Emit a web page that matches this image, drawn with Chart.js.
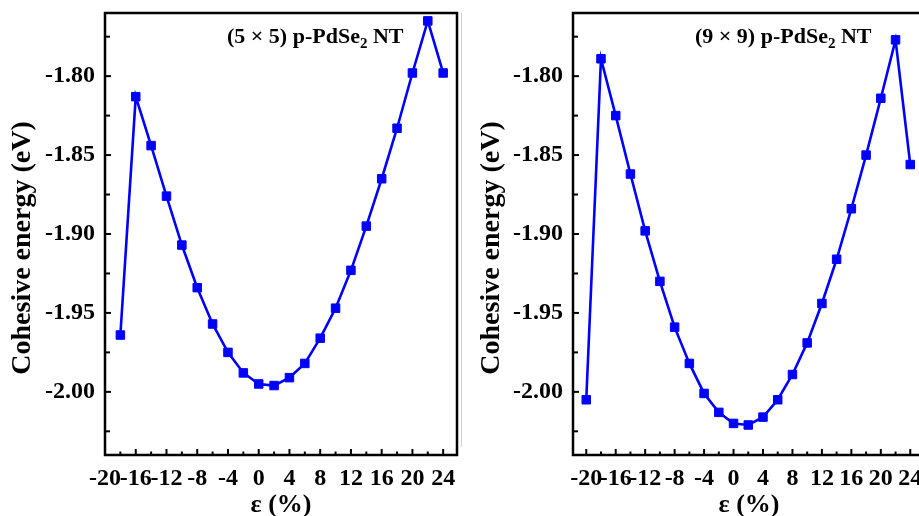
<!DOCTYPE html>
<html>
<head>
<meta charset="utf-8">
<script src="https://cdn.jsdelivr.net/npm/chart.js@4/dist/chart.umd.min.js"></script>
<style>
  body { margin: 0; background: #fff; }
  #wrap { position: relative; width: 919px; height: 516px; overflow: hidden; background: #fff; }
  #chartA { position: absolute; left: 0; top: 0; }
  #chartB { position: absolute; left: 460px; top: 0; }
  #sep { position: absolute; left: 461px; top: 13px; width: 0; height: 434px; border-left: 1px solid #d0d0d0; }
</style>
</head>
<body>
<div id="wrap">
  <canvas id="chartA" width="460" height="516"></canvas>
  <div id="sep"></div>
  <canvas id="chartB" width="480" height="516"></canvas>
</div>
<script>
// strain values (%) and cohesive energies (eV)
const strainA = [-18, -16, -14, -12, -10, -8, -6, -4, -2, 0, 2, 4, 6, 8, 10, 12, 14, 16, 18, 20, 22, 24];
const energyA = [-1.964, -1.813, -1.844, -1.876, -1.907, -1.934, -1.957, -1.975, -1.988, -1.995, -1.996,
                 -1.991, -1.982, -1.966, -1.947, -1.923, -1.895, -1.865, -1.833, -1.798, -1.765, -1.798];

const strainB = [-20, -18, -16, -14, -12, -10, -8, -6, -4, -2, 0, 2, 4, 6, 8, 10, 12, 14, 16, 18, 20, 22, 24];
const energyB = [-2.005, -1.789, -1.825, -1.862, -1.898, -1.930, -1.959, -1.982, -2.001, -2.013, -2.020, -2.021,
                 -2.016, -2.005, -1.989, -1.969, -1.944, -1.916, -1.884, -1.850, -1.814, -1.777, -1.856];

// tick values
const xMajor = [-20, -16, -12, -8, -4, 0, 4, 8, 12, 16, 20, 24];
const xMinor = [-18, -14, -10, -6, -2, 2, 6, 10, 14, 18, 22];
const yMajor = [-2.00, -1.95, -1.90, -1.85, -1.80];
const yMinor = [-2.025, -1.975, -1.925, -1.875, -1.825, -1.775];

const labelA = "(5 \u00d7 5) p-PdSe";
const labelB = "(9 \u00d7 9) p-PdSe";

const FONT = "'Liberation Serif', 'Times New Roman', serif";

// frame + inward ticks + panel label
const framePlugin = {
  id: "frameTicks",
  afterDatasetsDraw(chart, args, opts) {
    const ctx = chart.ctx;
    const a = chart.chartArea;
    const xs = chart.scales.x, ys = chart.scales.y;
    ctx.save();
    ctx.strokeStyle = "#000";
    ctx.lineWidth = 2;
    xMajor.forEach(v => {
      const px = xs.getPixelForValue(v);
      ctx.beginPath(); ctx.moveTo(px, a.bottom); ctx.lineTo(px, a.bottom - 6); ctx.stroke();
    });
    xMinor.forEach(v => {
      const px = xs.getPixelForValue(v);
      ctx.beginPath(); ctx.moveTo(px, a.bottom); ctx.lineTo(px, a.bottom - 3.5); ctx.stroke();
    });
    yMajor.forEach(v => {
      const py = ys.getPixelForValue(v);
      ctx.beginPath(); ctx.moveTo(a.left, py); ctx.lineTo(a.left + 6, py); ctx.stroke();
    });
    yMinor.forEach(v => {
      const py = ys.getPixelForValue(v);
      ctx.beginPath(); ctx.moveTo(a.left, py); ctx.lineTo(a.left + 5, py); ctx.stroke();
    });
    ctx.lineWidth = 2.5;
    ctx.strokeRect(a.left, a.top, a.right - a.left, a.bottom - a.top);

    // panel label with subscript
    const tx = a.left + opts.dx, ty = a.top + opts.dy;
    ctx.fillStyle = "#000";
    ctx.textBaseline = "alphabetic";
    ctx.textAlign = "left";
    ctx.font = "bold 22px " + FONT;
    ctx.fillText(opts.text, tx, ty);
    let w = ctx.measureText(opts.text).width;
    ctx.font = "bold 15px " + FONT;
    ctx.fillText("2", tx + w, ty + 5);
    w += ctx.measureText("2").width;
    ctx.font = "bold 22px " + FONT;
    ctx.fillText(" NT", tx + w, ty);
    ctx.restore();
  }
};

function makeChart(id, xs, ys, xMin, xMax, axisWidth, padRight, titlePad, label) {
  const ctx = document.getElementById(id).getContext("2d");
  const points = xs.map((x, i) => ({ x: x, y: ys[i] }));
  return new Chart(ctx, {
    type: "line",
    data: {
      datasets: [{
        data: points,
        borderColor: "#0000ff",
        backgroundColor: "#0000ff",
        borderWidth: 2.6,
        pointStyle: "rect",
        pointRadius: 6,
        pointBorderWidth: 1,
        tension: 0,
      }],
    },
    options: {
      responsive: false,
      animation: false,
      layout: { autoPadding: false, padding: { top: 13, right: padRight, left: 0, bottom: 0 } },
      plugins: {
        legend: { display: false },
        tooltip: { enabled: false },
        frameTicks: { text: label, dx: 122, dy: 30 },
      },
      scales: {
        x: {
          type: "linear",
          min: xMin,
          max: xMax,
          afterBuildTicks: s => { s.ticks = xMajor.map(v => ({ value: v })); },
          afterFit: s => { s.height = 61; s.paddingLeft = 0; s.paddingRight = 0; },
          grid: { display: false, drawTicks: false },
          border: { display: false },
          ticks: {
            padding: 9,
            color: "#000",
            font: { family: FONT, size: 24, weight: "bold" },
            maxRotation: 0,
            autoSkip: false,
          },
          title: {
            display: true,
            text: "\u03b5 (%)",
            color: "#000",
            font: { family: FONT, size: 26, weight: "bold", lineHeight: 1 },
            padding: { top: 0, bottom: -2 },
          },
        },
        y: {
          min: -2.04,
          max: -1.76,
          afterBuildTicks: s => { s.ticks = yMajor.map(v => ({ value: v })); },
          afterFit: s => { s.width = axisWidth; s.paddingTop = 0; s.paddingBottom = 0; },
          grid: { display: false, drawTicks: false },
          border: { display: false },
          ticks: {
            padding: 10,
            color: "#000",
            font: { family: FONT, size: 24, weight: "bold" },
            callback: v => v.toFixed(2),
          },
          title: {
            display: true,
            // trailing spaces push the centred title slightly down, as in the figure
            text: "Cohesive energy (eV)\u00a0\u00a0\u00a0\u00a0",
            color: "#000",
            font: { family: FONT, size: 28, weight: "bold", lineHeight: 1 },
            padding: { top: titlePad, bottom: 0 },
          },
        },
      },
    },
    plugins: [framePlugin],
  });
}

document.addEventListener("DOMContentLoaded", function () {
  makeChart("chartA", strainA, energyA, -20, 25.8, 105, 3, 9, labelA);
  makeChart("chartB", strainB, energyB, -21.8, 26, 113, 15, 18, labelB);
});
</script>
</body>
</html>
